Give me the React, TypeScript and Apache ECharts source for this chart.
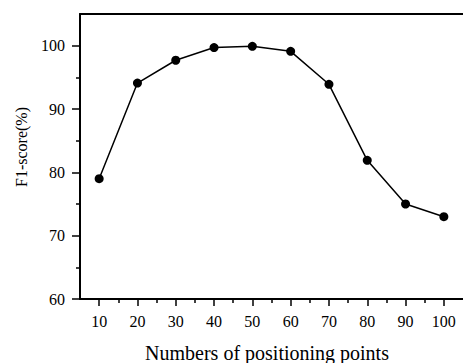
import React, { useEffect, useRef } from "react";
import * as echarts from "echarts";

const positions = [10, 20, 30, 40, 50, 60, 70, 80, 90, 100];
const f1Scores = [79.0, 94.1, 97.7, 99.7, 99.9, 99.1, 93.9, 81.9, 75.0, 73.0];
const xMajorTicks = [10, 20, 30, 40, 50, 60, 70, 80, 90, 100];
const xMinorTicks = [15, 25, 35, 45, 55, 65, 75, 85, 95];
const yMajorTicks = [60, 70, 80, 90, 100];
const yMinorTicks = [65, 75, 85, 95];
const xTitle = "Numbers of positioning points";
const yTitle = "F1-score(%)";

const FONT = "Liberation Serif";

export default function App() {
  const ref = useRef<HTMLDivElement>(null);
  useEffect(() => {
    if (!ref.current) return;
    const chart = echarts.init(ref.current, null, { renderer: "svg" });
    const baseX = { type: "value", min: 5, max: 105, gridIndex: 0, splitLine: { show: false } };
    const baseY = { type: "value", min: 60, max: 105, gridIndex: 0, splitLine: { show: false } };
    chart.setOption({
      animation: false,
      backgroundColor: "#ffffff",
      textStyle: { fontFamily: FONT, color: "#000" },
      grid: { left: 80, top: 14, bottom: 64, right: -4 },
      xAxis: [
        {
          ...baseX,
          position: "bottom",
          axisLine: { show: true, onZero: false, lineStyle: { color: "#000", width: 2 } },
          axisTick: { show: true, customValues: xMajorTicks, length: 7, lineStyle: { color: "#000", width: 1.5 } },
          axisLabel: { show: true, customValues: xMajorTicks, margin: 14, color: "#000", fontSize: 16, fontFamily: FONT },
        },
        {
          ...baseX,
          position: "bottom",
          axisLine: { show: false, onZero: false },
          axisTick: { show: true, customValues: xMinorTicks, length: 4, lineStyle: { color: "#000", width: 1.5 } },
          axisLabel: { show: false },
        },
        {
          ...baseX,
          position: "top",
          axisLine: { show: true, onZero: false, lineStyle: { color: "#000", width: 2 } },
          axisTick: { show: false },
          axisLabel: { show: false },
        },
      ],
      yAxis: [
        {
          ...baseY,
          position: "left",
          axisLine: { show: true, onZero: false, lineStyle: { color: "#000", width: 2 } },
          axisTick: { show: true, customValues: yMajorTicks, length: 8, lineStyle: { color: "#000", width: 1.5 } },
          axisLabel: { show: true, customValues: yMajorTicks, margin: 15, color: "#000", fontSize: 16, fontFamily: FONT },
        },
        {
          ...baseY,
          position: "left",
          axisLine: { show: false, onZero: false },
          axisTick: { show: true, customValues: yMinorTicks, length: 4, lineStyle: { color: "#000", width: 1.5 } },
          axisLabel: { show: false },
        },
      ],
      graphic: [
        {
          type: "text",
          x: 21,
          y: 147,
          rotation: Math.PI / 2,
          style: { text: yTitle, fill: "#000", fontSize: 16, fontFamily: FONT, align: "center", verticalAlign: "middle" },
        },
        {
          type: "text",
          x: 267,
          y: 353,
          style: { text: xTitle, fill: "#000", fontSize: 20, fontFamily: FONT, align: "center", verticalAlign: "middle" },
        },
      ],
      series: [
        {
          type: "line",
          xAxisIndex: 0,
          yAxisIndex: 0,
          data: positions.map((p, i) => [p, f1Scores[i]]),
          symbol: "circle",
          symbolSize: 9,
          lineStyle: { color: "#000", width: 1.5 },
          itemStyle: { color: "#000" },
        },
      ],
    });
    return () => chart.dispose();
  }, []);
  return <div ref={ref} style={{ position: "fixed", left: 0, top: 0, width: 463, height: 363 }} />;
}
